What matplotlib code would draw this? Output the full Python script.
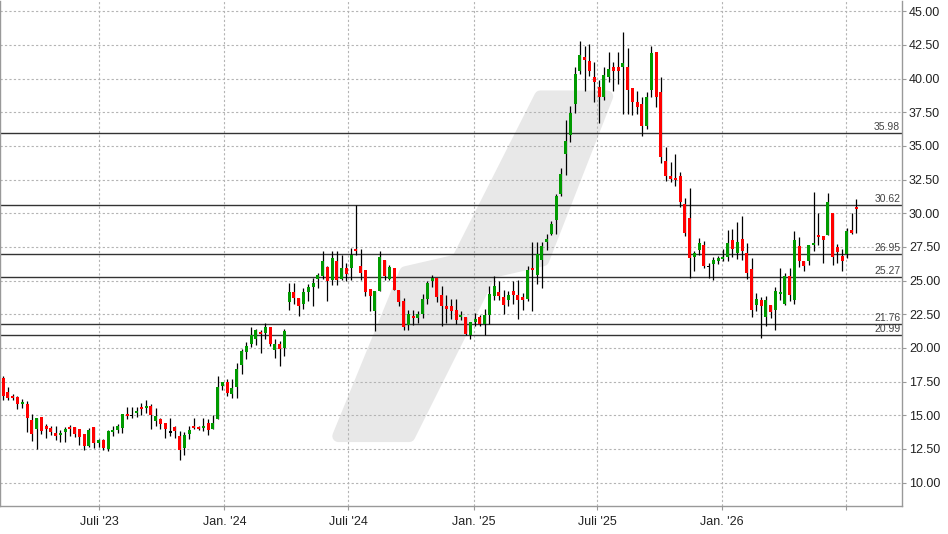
import matplotlib
matplotlib.use('Agg')
import matplotlib.pyplot as plt
import matplotlib.dates as mdates
from matplotlib.patches import Polygon
from matplotlib.transforms import blended_transform_factory
import numpy as np
import pandas as pd

plt.rcParams['font.family'] = ['Liberation Sans', 'DejaVu Sans']

# weekly candles, first week ending 2023-02-10
first_week = '2023-02-10'

opens = [
    17.80, 16.71, 16.41, 16.34, 15.82, 15.82, 14.63, 13.96, 14.85, 14.18,
    14.03, 13.66, 13.54, 13.74, 14.11, 14.11, 14.01, 13.59, 12.70, 14.11,
    12.97, 13.14, 12.48, 13.74, 13.89, 14.03, 15.07, 15.00, 15.15, 15.59,
    15.52, 15.69, 14.58, 14.70, 14.46, 13.75, 14.13, 13.44, 12.57, 13.59,
    14.18, 14.11, 14.03, 14.46, 13.96, 14.70, 17.18, 17.45, 16.58, 17.08,
    18.73, 19.72, 20.31, 20.70, 21.17, 21.10, 21.54, 19.81, 20.26, 20.01,
    23.42, 24.16, 23.69, 23.26, 24.12, 24.54, 25.09, 25.36, 26.02, 25.06,
    26.47, 25.11, 25.95, 25.90, 27.36, 26.10, 25.80, 24.40, 22.72, 24.20,
    26.54, 25.11, 25.95, 24.27, 23.51, 21.68, 22.35, 22.25, 22.54, 23.65,
    24.99, 25.23, 23.95, 23.09, 23.14, 22.85, 22.28, 22.30, 20.99, 21.93,
    22.30, 21.81, 22.43, 23.83, 24.18, 23.79, 23.54, 24.26, 23.94, 23.79,
    23.64, 25.97, 25.45, 26.51, 27.85, 28.47, 29.48, 31.44, 34.38, 35.78,
    38.08, 40.60, 41.64, 41.34, 40.10, 39.36, 38.62, 40.10, 40.85, 40.90,
    40.90, 40.90, 39.34, 38.23, 38.15, 36.45, 39.19, 41.96, 39.04, 33.86,
    32.75, 32.62, 32.75, 30.67, 29.66, 26.77, 27.27, 27.64, 26.05, 26.23,
    26.47, 26.60, 26.77, 28.00, 27.07, 28.08, 27.02, 25.85, 23.21, 23.58,
    22.27, 23.21, 22.84, 23.98, 23.28, 25.36, 23.53, 27.58, 26.49, 26.42,
    27.68, 28.40, 28.32, 28.40, 30.00, 27.53, 26.84, 26.99, 28.77, 30.49,
]
highs = [
    17.92, 17.08, 16.58, 16.44, 16.19, 16.04, 15.07, 14.83, 14.85, 14.33,
    14.18, 14.18, 13.89, 14.13, 14.26, 14.11, 14.01, 13.59, 14.03, 14.11,
    13.27, 13.22, 13.89, 14.21, 14.33, 15.07, 15.64, 15.59, 15.59, 15.89,
    16.14, 15.87, 15.57, 14.83, 14.46, 14.83, 14.21, 13.81, 13.76, 14.21,
    14.83, 14.21, 14.83, 14.70, 15.00, 17.92, 17.48, 17.67, 17.67, 18.90,
    19.91, 20.41, 21.59, 21.40, 21.30, 21.84, 21.54, 20.65, 20.51, 21.40,
    24.85, 24.85, 23.69, 24.44, 24.74, 25.19, 25.56, 27.21, 26.10, 27.21,
    27.21, 26.91, 26.30, 27.41, 30.59, 27.36, 25.80, 24.40, 24.25, 27.21,
    26.54, 26.15, 25.95, 24.27, 23.70, 22.79, 22.79, 22.72, 24.02, 24.99,
    25.43, 25.23, 24.57, 23.95, 23.64, 23.66, 22.77, 22.30, 21.93, 22.60,
    22.48, 22.90, 24.58, 25.32, 24.95, 24.33, 24.21, 24.95, 25.07, 24.08,
    26.06, 27.87, 27.87, 27.87, 28.47, 29.41, 31.46, 33.37, 36.90, 38.00,
    40.85, 42.82, 42.45, 42.57, 41.27, 39.93, 40.90, 42.00, 41.22, 41.96,
    43.49, 42.25, 39.34, 39.07, 38.62, 38.99, 42.45, 41.96, 40.15, 34.92,
    33.81, 34.40, 33.07, 31.17, 31.91, 27.19, 28.13, 27.93, 26.28, 26.72,
    26.82, 27.34, 28.75, 28.82, 29.32, 29.81, 27.76, 26.69, 24.07, 23.78,
    23.88, 23.21, 24.49, 25.93, 25.56, 25.93, 28.69, 28.22, 26.49, 27.65,
    31.60, 30.00, 28.32, 31.48, 30.00, 27.70, 27.33, 28.89, 30.05, 31.04,
]
lows = [
    16.14, 16.14, 16.14, 15.45, 15.52, 13.76, 13.09, 12.48, 13.59, 13.32,
    13.51, 13.17, 13.04, 13.02, 13.47, 13.39, 12.80, 12.43, 12.67, 12.60,
    12.62, 12.43, 12.35, 13.47, 13.71, 13.66, 14.70, 14.80, 14.90, 15.00,
    15.20, 13.96, 14.21, 13.96, 13.29, 13.47, 13.29, 11.68, 12.03, 13.27,
    13.96, 13.89, 13.84, 13.54, 13.96, 14.70, 16.88, 16.44, 16.31, 16.31,
    18.06, 19.17, 20.04, 20.21, 19.64, 20.70, 20.14, 19.27, 18.68, 19.37,
    22.83, 23.25, 22.38, 22.91, 23.46, 23.09, 24.44, 25.11, 23.46, 24.69,
    24.69, 25.01, 24.94, 25.01, 26.91, 25.06, 23.88, 22.72, 21.23, 24.20,
    25.01, 25.01, 24.27, 23.14, 21.31, 21.31, 21.73, 21.85, 22.22, 23.26,
    24.49, 23.41, 21.60, 21.85, 22.15, 21.81, 22.06, 20.99, 20.69, 21.61,
    21.61, 20.99, 21.81, 23.54, 23.59, 22.55, 23.14, 23.29, 22.15, 22.80,
    23.47, 22.72, 24.78, 24.46, 27.25, 28.42, 28.47, 31.26, 32.82, 35.30,
    37.46, 40.35, 39.07, 40.23, 38.25, 36.70, 38.38, 39.73, 39.07, 39.61,
    37.39, 37.39, 37.31, 37.39, 35.73, 36.28, 38.62, 37.88, 33.73, 32.38,
    32.33, 32.00, 30.48, 28.30, 25.17, 25.73, 26.90, 25.90, 25.17, 25.05,
    26.20, 26.47, 26.47, 26.72, 26.60, 26.52, 25.12, 22.27, 22.72, 20.74,
    21.60, 22.22, 21.36, 23.58, 23.21, 23.46, 23.28, 26.00, 25.68, 26.17,
    27.23, 27.65, 26.30, 28.40, 26.17, 26.30, 25.68, 26.67, 28.44, 28.52,
]
closes = [
    16.44, 16.26, 16.26, 15.82, 15.97, 14.78, 13.61, 14.78, 13.84, 13.96,
    13.76, 13.47, 13.69, 13.99, 13.96, 13.59, 13.39, 12.70, 13.89, 12.92,
    13.14, 12.55, 13.84, 13.91, 14.21, 15.07, 14.93, 15.00, 15.30, 15.45,
    15.67, 15.02, 14.95, 14.33, 13.96, 13.75, 13.84, 12.43, 13.51, 13.89,
    14.03, 13.96, 14.18, 13.91, 14.46, 17.08, 17.48, 16.68, 17.00, 18.42,
    19.79, 20.11, 20.95, 21.32, 21.00, 21.54, 20.28, 20.28, 19.91, 21.25,
    24.16, 23.69, 23.12, 24.12, 24.49, 24.84, 25.43, 26.47, 24.99, 26.69,
    25.06, 25.95, 25.51, 26.91, 27.21, 25.56, 24.12, 23.83, 24.25, 26.77,
    25.36, 26.02, 24.27, 23.41, 21.56, 22.54, 22.20, 22.54, 23.65, 24.84,
    25.23, 23.75, 23.09, 22.91, 22.77, 22.10, 22.48, 21.06, 21.93, 22.18,
    21.81, 22.48, 24.03, 24.60, 23.83, 23.17, 23.94, 23.91, 23.59, 23.54,
    25.82, 25.82, 27.00, 27.55, 28.12, 29.23, 31.26, 32.95, 35.34, 37.44,
    40.35, 41.76, 41.39, 40.55, 39.73, 38.62, 40.28, 40.72, 40.55, 40.60,
    41.19, 39.19, 38.25, 37.93, 36.45, 38.67, 41.88, 38.62, 34.18, 32.75,
    32.52, 32.45, 30.85, 28.50, 26.70, 27.03, 27.77, 26.10, 26.05, 26.52,
    26.65, 26.77, 27.76, 27.32, 27.88, 27.22, 25.54, 22.84, 23.65, 23.14,
    23.53, 22.64, 24.25, 24.12, 25.31, 23.95, 28.02, 26.49, 26.05, 27.65,
    27.83, 28.25, 28.02, 30.86, 26.74, 27.16, 26.42, 28.72, 28.52, 30.30,
]

levels = [35.98, 30.62, 26.95, 25.27, 21.76, 20.99]

y_ticks = [10.0, 12.5, 15.0, 17.5, 20.0, 22.5, 25.0, 27.5, 30.0,
           32.5, 35.0, 37.5, 40.0, 42.5, 45.0]
x_tick_dates = ['2023-07-01', '2024-01-01', '2024-07-01', '2025-01-01',
                '2025-07-01', '2026-01-01', '2026-07-01']
x_tick_labels = ["Juli '23", "Jan. '24", "Juli '24", "Jan. '25",
                 "Juli '25", "Jan. '26", ""]

# light grey logo shape behind the chart, in axes fractions
# (drawn with a thick round-joined edge so the corners come out rounded)
logo_shape = [(0.3747, 0.1383), (0.4490, 0.4625), (0.5067, 0.4862), (0.5987, 0.8103),
              (0.6730, 0.8103), (0.6020, 0.4862), (0.5443, 0.4625), (0.4534, 0.1383)]


def main():
    dates = mdates.date2num(pd.date_range(first_week, periods=len(opens), freq='7D'))
    o = np.array(opens)
    h = np.array(highs)
    l = np.array(lows)
    c = np.array(closes)

    fig = plt.figure(figsize=(9.48, 5.34), dpi=100)
    ax = fig.add_axes([0.0005, 0.0524, 0.951, 0.9466])
    ax.set_axisbelow(True)

    ax.add_patch(Polygon(logo_shape, closed=True, transform=ax.transAxes,
                         facecolor='#e8e8e8', edgecolor='#e8e8e8', lw=8.6,
                         joinstyle='round', zorder=0.1))

    for lv in levels:
        ax.axhline(lv, color='#333333', lw=1.0, zorder=1.5)

    trans = blended_transform_factory(ax.transAxes, ax.transData)
    for lv in levels:
        ax.text(0.998, lv + 0.08, f'{lv:.2f}', transform=trans, ha='right',
                va='bottom', fontsize=7.5, color='#444444', zorder=4)

    ax.vlines(dates, l, h, color='black', lw=0.9, zorder=2)
    body = np.abs(c - o)
    flat = body < 0.05
    colors = np.where(c > o, '#009a00', '#ff0000')
    colors[flat] = 'black'
    ax.bar(dates, np.where(flat, 0.1, body), bottom=np.minimum(o, c) - np.where(flat, 0.05, 0),
           width=4.4, color=colors, zorder=3)

    ax.set_xlim(mdates.datestr2num('2023-02-06'), mdates.datestr2num('2026-09-22'))
    ax.set_ylim(8.26, 45.8)

    ax.yaxis.tick_right()
    ax.set_yticks(y_ticks)
    ax.set_yticklabels([f'{t:.2f}' for t in y_ticks])
    ax.set_xticks(mdates.datestr2num(x_tick_dates))
    ax.set_xticklabels(x_tick_labels)
    ax.tick_params(axis='y', length=3, pad=2, labelsize=9, colors='#999999',
                   labelcolor='#222222')
    ax.tick_params(axis='x', length=3, pad=4, labelsize=9, colors='#999999',
                   labelcolor='#222222')

    ax.grid(True, color='#b4b4b4', linestyle=(0, (2, 2)), lw=0.8)
    for side in ['left', 'bottom', 'right']:
        ax.spines[side].set_color('#999999')
        ax.spines[side].set_linewidth(1.0)
    ax.spines['top'].set_visible(False)

    fig.savefig('out.png', dpi=100, facecolor='white')


if __name__ == '__main__':
    main()
